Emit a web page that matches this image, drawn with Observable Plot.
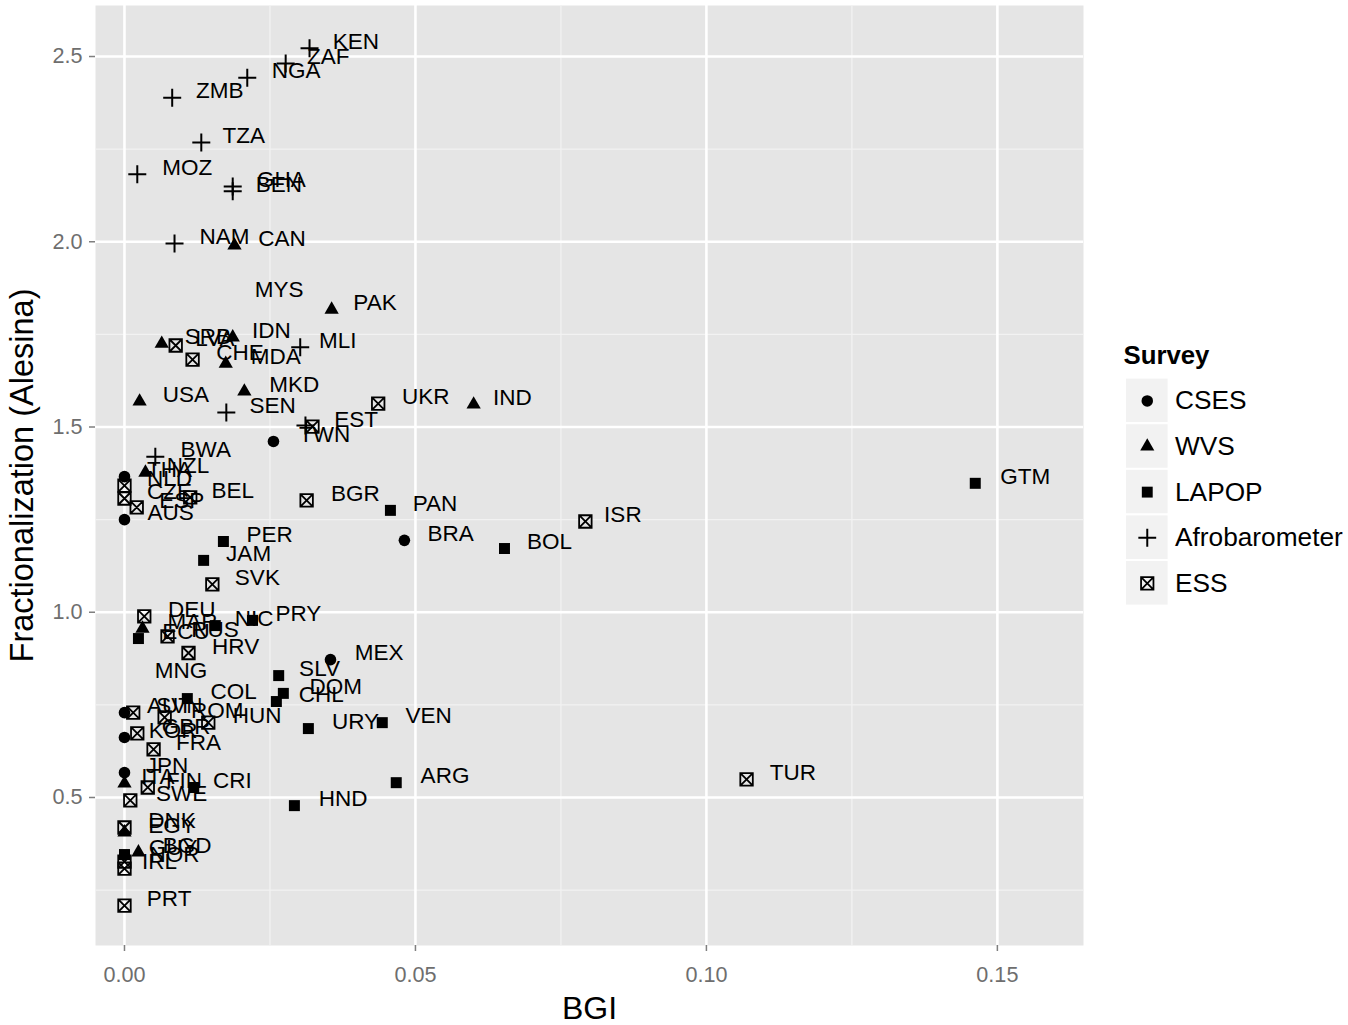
<!DOCTYPE html>
<html><head><meta charset="utf-8">
<script src="https://cdn.jsdelivr.net/npm/d3@7"></script>
<script src="https://cdn.jsdelivr.net/npm/@observablehq/plot@0.6"></script>
<style>
body{margin:0;background:#fff;}
#wrap{position:relative;width:1348px;height:1025px;}
#wrap svg{display:block;}
#legend{position:absolute;left:1120px;top:336px;}
</style></head><body><div id="wrap"><div id="legend"></div></div>
<script>
const FONT = '"Liberation Sans", Arial, Helvetica, sans-serif';

// ---- data ----
const surveys = ["CSES","WVS","LAPOP","Afrobarometer","ESS"];

const csesCodes = ["TWN","THA","AUS","BRA","MEX","AUT","KOR","JPN"];
const csesBGI   = [0.0256,0,0,0.0481,0.0354,0,0,0];
const csesFrac  = [1.461,1.366,1.250,1.194,0.872,0.729,0.662,0.567];

const wvsCodes = ["CAN","PAK","SRB","IDN","MDA","MKD","USA","IND","NZL","MAR","ITA","EGY","BGD"];
const wvsBGI   = [0.0189,0.0356,0.0064,0.0186,0.0174,0.0206,0.0026,0.0600,0.0036,0.0031,0,0,0.0024];
const wvsFrac  = [1.990,1.817,1.725,1.742,1.671,1.596,1.569,1.561,1.377,0.956,0.538,0.406,0.352];

const lapopCodes = ["GTM","PAN","BOL","PER","JAM","NIC","PRY","ECU","SLV","COL","DOM","CHL","URY","VEN","ARG","HND","CRI","GUY"];
const lapopBGI   = [0.1462,0.0457,0.0653,0.0170,0.0136,0.0156,0.0220,0.0024,0.0265,0.0108,0.0273,0.0261,0.0316,0.0443,0.0467,0.0292,0.0119,0];
const lapopFrac  = [1.348,1.275,1.172,1.191,1.140,0.964,0.978,0.929,0.829,0.767,0.781,0.759,0.686,0.702,0.540,0.478,0.527,0.346];

const afroCodes = ["KEN","ZAF","NGA","ZMB","TZA","MOZ","GHA","BEN","NAM","MLI","SEN","BWA",""];
const afroBGI   = [0.0318,0.0277,0.0211,0.0082,0.0132,0.0022,0.0186,0.0186,0.0086,0.0302,0.0175,0.0053,0.0311];
const afroFrac  = [2.522,2.481,2.443,2.389,2.268,2.182,2.149,2.136,1.995,1.715,1.539,1.420,1.504];

const essCodes = ["LVA","CHE","UKR","EST","NLD","CZE","ESP","BEL","BGR","ISR","SVK","DEU","RUS","HRV","SVN","ROM","HUN","GBR","FRA","FIN","SWE","DNK","NOR","IRL","PRT","TUR"];
const essBGI   = [0.0088,0.0117,0.0436,0.0323,0,0,0.0021,0.0113,0.0313,0.0792,0.0151,0.0034,0.0074,0.0110,0.0015,0.0069,0.0144,0.0022,0.0050,0.0040,0.0010,0,0,0,0,0.1069];
const essFrac  = [1.720,1.682,1.563,1.501,1.342,1.307,1.283,1.310,1.302,1.245,1.075,0.989,0.935,0.890,0.729,0.716,0.702,0.673,0.630,0.527,0.492,0.419,0.327,0.308,0.208,0.549];

// labelled countries whose survey has no symbol
const otherCodes = ["MYS","MNG"];
const otherBGI   = [0.0182,0.0007];
const otherFrac  = [1.852,0.824];

const xTicks = [0,0.05,0.10,0.15];
const xMinor = [0.025,0.075,0.125];
const yTicks = [0.5,1.0,1.5,2.0,2.5];
const yMinor = [0.25,0.75,1.25,1.75,2.25];

// ---- build table ----
function rows(survey, codes, bgi, frac){
  return codes.map((c,i)=>({survey, code:c, bgi:bgi[i], frac:frac[i]}));
}
const points = [
  ...rows("CSES", csesCodes, csesBGI, csesFrac),
  ...rows("WVS", wvsCodes, wvsBGI, wvsFrac),
  ...rows("LAPOP", lapopCodes, lapopBGI, lapopFrac),
  ...rows("Afrobarometer", afroCodes, afroBGI, afroFrac),
  ...rows("ESS", essCodes, essBGI, essFrac)
];
const others = rows("Other", otherCodes, otherBGI, otherFrac);

// square with X (⊠)
const boxX = {
  draw(ctx, size){
    const h = Math.sqrt(size) * 0.28209;
    ctx.moveTo(-h,-h); ctx.lineTo(h,-h); ctx.lineTo(h,h); ctx.lineTo(-h,h); ctx.closePath();
    ctx.moveTo(-h,-h); ctx.lineTo(h,h);
    ctx.moveTo(h,-h); ctx.lineTo(-h,h);
  }
};
// plus (+)
const plusSym = {
  draw(ctx, size){
    const h = Math.sqrt(size) * 0.28209;
    ctx.moveTo(-h,0); ctx.lineTo(h,0);
    ctx.moveTo(0,-h); ctx.lineTo(0,h);
  }
};
const symStyle = {
  CSES: {symbol:"circle", r:5.8, fill:"black", stroke:"none"},
  WVS: {symbol:"triangle", r:5.3, fill:"black", stroke:"none"},
  LAPOP: {symbol:"square", r:6.2, fill:"black", stroke:"none"},
  Afrobarometer: {symbol:plusSym, r:18, fill:"none", stroke:"black", strokeWidth:2},
  ESS: {symbol:boxX, r:12.5, fill:"none", stroke:"black", strokeWidth:1.8}
};

const LABEL_SIZE = 22.5;
const cv = document.createElement("canvas").getContext("2d");
cv.font = `${LABEL_SIZE}px "Liberation Sans"`;

const dotMarks = surveys.map(s =>
  Plot.dot(points.filter(d => d.survey === s), {x:"bgi", y:"frac", ...symStyle[s]})
);
const labelMarks = [...points, ...others].filter(d => d.code).map(d =>
  Plot.text([d], {x:"bgi", y:"frac", text:"code", textAnchor:"start",
    dx: cv.measureText(d.code).width / 2, dy: -6.5,
    fontSize: LABEL_SIZE, fill:"black", fontFamily: FONT})
);

const chart = Plot.plot({
  width: 1348, height: 1025,
  marginLeft: 95, marginRight: 265, marginTop: 5, marginBottom: 80,
  style: {fontFamily: FONT, background: "white", overflow: "visible"},
  x: {domain: [-0.00498, 0.1648]},
  y: {domain: [0.1005, 2.6377]},
  marks: [
    Plot.frame({fill: "#E5E5E5", stroke: "none"}),
    Plot.gridX(xMinor, {stroke: "#F2F2F2", strokeOpacity: 1, strokeWidth: 1.3}),
    Plot.gridY(yMinor, {stroke: "#F2F2F2", strokeOpacity: 1, strokeWidth: 1.3}),
    Plot.gridX(xTicks, {stroke: "white", strokeOpacity: 1, strokeWidth: 2.6}),
    Plot.gridY(yTicks, {stroke: "white", strokeOpacity: 1, strokeWidth: 2.6}),
    Plot.axisX(xTicks, {tickFormat: d3.format(".2f"), tickSize: 6, tickPadding: 15,
      fontSize: 21.6, stroke: "#7F7F7F", fill: "#6E6E6E", strokeWidth: 1.5, label: null}),
    Plot.axisY(yTicks, {tickFormat: d3.format(".1f"), tickSize: 6, tickPadding: 7,
      fontSize: 21.6, stroke: "#7F7F7F", fill: "#6E6E6E", strokeWidth: 1.5, label: null}),
    ...dotMarks,
    ...labelMarks,
    Plot.text(["BGI"], {frameAnchor: "bottom", textAnchor: "middle", lineAnchor: "middle", dy: 63, fontSize: 32, fill: "black"}),
    Plot.text(["Fractionalization (Alesina)"], {frameAnchor: "left", textAnchor: "middle", lineAnchor: "middle", dx: -73, rotate: -90, fontSize: 32.5, fill: "black"})
  ]
});
document.getElementById("wrap").prepend(chart);

// ---- legend ----
const legendDots = surveys.map(s =>
  Plot.dot([s], {x: () => "k", y: d => d, ...symStyle[s]})
);
const legend = Plot.plot({
  width: 230, height: 281,
  marginLeft: 5, marginTop: 40, marginRight: 0, marginBottom: 7,
  style: {fontFamily: FONT, background: "transparent", overflow: "visible"},
  x: {type: "band", domain: ["k"], range: [5, 49], padding: 0, axis: null},
  y: {type: "band", domain: surveys, range: [40, 274], padding: 0, axis: null},
  marks: [
    Plot.cell(surveys, {x: () => "k", y: d => d, fill: "#F2F2F2", stroke: "white", strokeWidth: 2}),
    ...legendDots,
    Plot.text(surveys, {x: () => "k", y: d => d, text: d => d, dx: 28, textAnchor: "start", fontSize: 26.5, fill: "black"}),
    Plot.text(["Survey"], {frameAnchor: "top-left", textAnchor: "start", lineAnchor: "middle", dx: -2, dy: -21,
      fontWeight: "bold", fontSize: 26, fill: "black"})
  ]
});
document.getElementById("legend").append(legend);
</script>
</body></html>
